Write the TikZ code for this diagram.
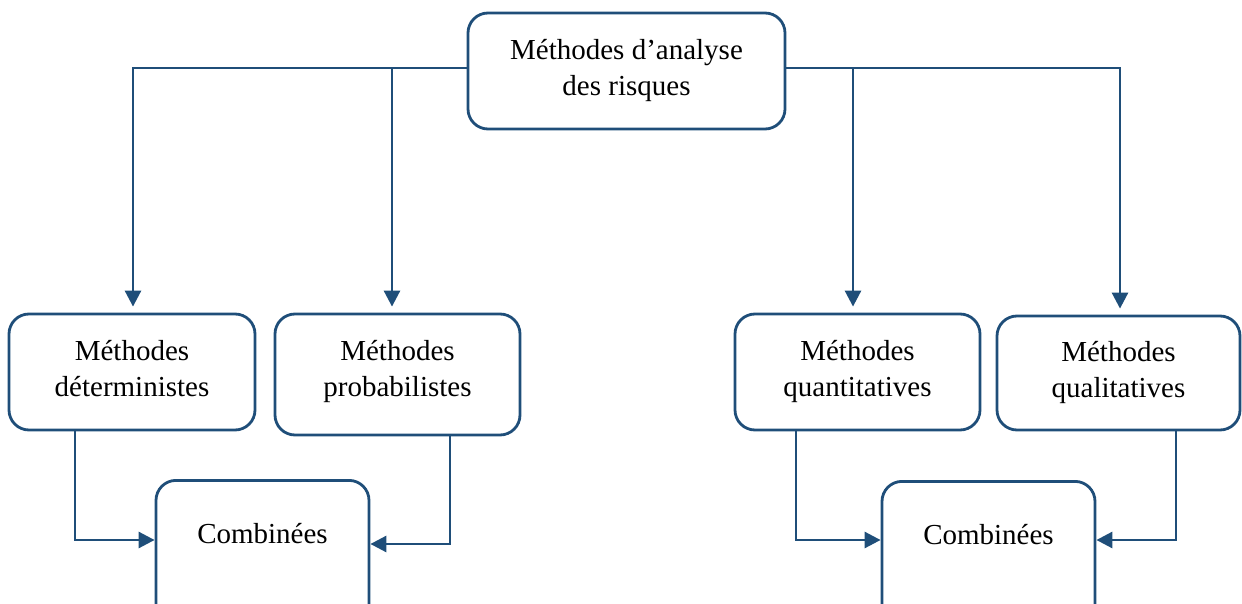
\documentclass[tikz,border=0pt]{standalone}
\usepackage{fontspec}
\setmainfont{Liberation Serif}
\usetikzlibrary{arrows.meta}
\definecolor{linkblue}{RGB}{31,78,121}
\begin{document}
\begin{tikzpicture}[x=1pt,y=1pt,
  box/.style={draw=linkblue, line width=2.8pt, rounded corners=20pt,
    align=center, inner sep=0pt, font=\fontsize{29}{36}\selectfont},
  label/.style={inner sep=0pt, font=\fontsize{29}{36}\selectfont},
  conn/.style={draw=linkblue, line width=2.8pt,
    -{Triangle[length=16pt,width=16pt]}}]
\useasboundingbox (0,0) rectangle (1242,603);

% main node and the four families of methods
\node[box, minimum width=317pt, minimum height=116pt] (top) at (626.5,532) {Méthodes d’analyse\\des risques};
\node[box, minimum width=246pt, minimum height=116pt] (b1) at (132,231) {Méthodes\\déterministes\rule[-6.3pt]{0pt}{0pt}};
\node[box, minimum width=245pt, minimum height=121pt] (b2) at (397.5,228.5) {Méthodes\\probabilistes\rule[-11.5pt]{0pt}{0pt}};
\node[box, minimum width=245pt, minimum height=116pt] (b3) at (857.5,231) {Méthodes\\quantitatives};
\node[box, minimum width=243pt, minimum height=114pt] (b4) at (1118.5,230) {Méthodes\\qualitatives};

% combined approaches (boxes run past the lower edge)
\node[box, minimum width=213pt, minimum height=160pt, anchor=north] (c1) at (262.5,124) {};
\node[label] (c1t) at (262.5,69) {Combinées};
\node[box, minimum width=213pt, minimum height=160pt, anchor=north] (c2) at (988.5,123) {};
\node[label] (c2t) at (988.5,68) {Combinées};

% levels where the side arrows enter the combined boxes
\coordinate (yl1) at (0,63);
\coordinate (yr1) at (0,59);
\coordinate (yl2) at (0,63);
\coordinate (yr2) at (0,63);

% branches from the main node
\draw[conn] ([yshift=3pt]top.west) -| ([xshift=1pt,yshift=6pt]b1.north);
\draw[conn] ([xshift=-5.5pt]b2.north |- {0,535}) -- ([xshift=-5.5pt,yshift=6pt]b2.north);
\draw[conn] ([yshift=3pt]top.east) -| ([xshift=1.5pt,yshift=6pt]b4.north);
\draw[conn] ([xshift=-4.5pt]b3.north |- {0,535}) -- ([xshift=-4.5pt,yshift=6pt]b3.north);

% links into the combined boxes
\draw[conn] ([xshift=-57pt]b1.south) |- (c1.west |- yl1);
\draw[conn] ([xshift=52.5pt]b2.south) |- (c1.east |- yr1);
\draw[conn] ([xshift=-61.5pt]b3.south) |- (c2.west |- yl2);
\draw[conn] ([xshift=57.5pt]b4.south) |- (c2.east |- yr2);
\end{tikzpicture}
\end{document}
